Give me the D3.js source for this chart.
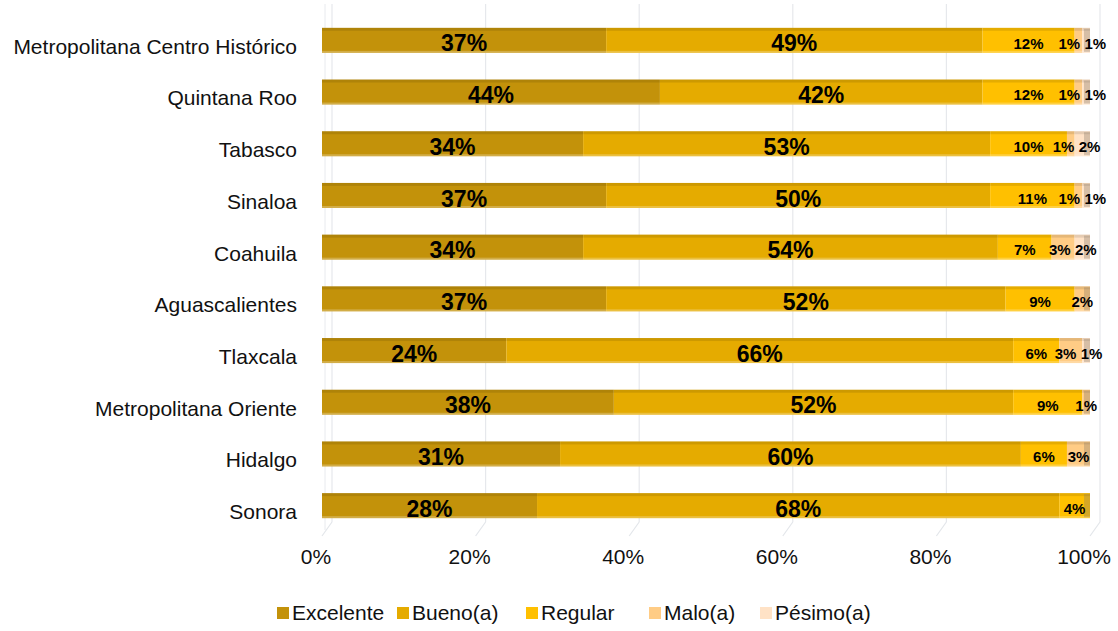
<!DOCTYPE html>
<html>
<head>
<meta charset="utf-8">
<script src="https://cdn.jsdelivr.net/npm/d3@7"></script>
<style>
  body { margin: 0; background: #fff; }
  text { font-family: "Liberation Sans", Arial, sans-serif; }
</style>
</head>
<body>
<div id="chart-area"></div>
<script>
// DATA
// =====

var categories = ['Metropolitana Centro Histórico', 'Quintana Roo', 'Tabasco', 'Sinaloa', 'Coahuila',
    'Aguascalientes', 'Tlaxcala', 'Metropolitana Oriente', 'Hidalgo', 'Sonora'];
var seriesNames = ['Excelente', 'Bueno(a)', 'Regular', 'Malo(a)', 'Pésimo(a)'];
var excelente = [37, 44, 34, 37, 34, 37, 24, 38, 31, 28];
var bueno     = [49, 42, 53, 50, 54, 52, 66, 52, 60, 68];
var regular   = [12, 12, 10, 11,  7,  9,  6,  9,  6,  4];
var malo      = [ 1,  1,  1,  1,  3,  2,  3,  1,  3,  0];
var pesimo    = [ 1,  1,  2,  1,  2,  0,  1,  0,  0,  0];
var xTicks = [0, 20, 40, 60, 80, 100];

var colors = ['#C3920A', '#E5AB00', '#FFC000', '#FFCC85', '#FFE2C6'];

// CANVAS
// =======

var W = 1118, H = 631;
var svg = d3.select('#chart-area')
    .append('svg')
        .attr('width', W)
        .attr('height', H);

var x = d3.scaleLinear().domain([0, 100]).range([322, 1090]);
var y = d3.scaleBand()
    .domain(categories)
    .range([14.5, 531.5])
    .paddingInner(0.516)
    .paddingOuter(0.258);

// stacked rows
var rows = categories.map((c, i) => {
    return { cat: c, vals: [excelente[i], bueno[i], regular[i], malo[i], pesimo[i]] };
});
var keys = d3.range(5);
var stack = d3.stack()
    .keys(keys)
    .value((d, k) => d.vals[k]);
var layers = stack(rows);

// GRID (back wall, pseudo 3D)
// ============================
var grid = svg.append('g');
grid.selectAll('line.grid')
    .data(xTicks)
    .enter()
    .append('line')
        .attr('x1', d => x(d) + 10)
        .attr('x2', d => x(d) + 10)
        .attr('y1', 4)
        .attr('y2', 522)
        .attr('stroke', '#e6e8ec')
        .attr('stroke-width', 1.2);
// floor slants
grid.selectAll('line.floor')
    .data(xTicks)
    .enter()
    .append('line')
        .attr('x1', d => x(d) + 10)
        .attr('x2', d => x(d))
        .attr('y1', 522)
        .attr('y2', 536)
        .attr('stroke', '#e3e6ea')
        .attr('stroke-width', 1.2);
grid.append('line')
    .attr('x1', x(0) + 3).attr('x2', x(0) + 3)
    .attr('y1', 4).attr('y2', 530)
    .attr('stroke', '#e8eaee');

// BARS
// =====
var barG = svg.append('g');
layers.forEach((layer, k) => {
    var g = barG.append('g');
    var segs = layer.filter(d => d[1] > d[0]);
    g.selectAll('rect.body')
        .data(segs)
        .enter()
        .append('rect')
            .attr('x', d => x(d[0]))
            .attr('y', d => y(d.data.cat))
            .attr('width', d => x(d[1]) - x(d[0]))
            .attr('height', y.bandwidth())
            .attr('fill', colors[k]);
    // top face shading
    g.selectAll('rect.top')
        .data(segs)
        .enter()
        .append('rect')
            .attr('x', d => x(d[0]))
            .attr('y', d => y(d.data.cat))
            .attr('width', d => x(d[1]) - x(d[0]))
            .attr('height', 3)
            .attr('fill', '#000')
            .attr('opacity', 0.1);
    // bottom highlight
    g.selectAll('rect.bot')
        .data(segs)
        .enter()
        .append('rect')
            .attr('x', d => x(d[0]))
            .attr('y', d => y(d.data.cat) + y.bandwidth() - 2)
            .attr('width', d => x(d[1]) - x(d[0]))
            .attr('height', 2)
            .attr('fill', '#fff')
            .attr('opacity', 0.25);
});
// end caps
barG.selectAll('rect.cap')
    .data(rows)
    .enter()
    .append('rect')
        .attr('x', x(100) - 6)
        .attr('y', d => y(d.cat) + 1)
        .attr('width', 6)
        .attr('height', y.bandwidth() - 2)
        .attr('fill', '#8a7a6a')
        .attr('opacity', 0.35);

// LABELS IN BARS
// ===============
var labG = svg.append('g');
rows.forEach((r, i) => {
    var labs = [];
    var start = 0;
    r.vals.forEach((v, k) => {
        if (v > 0) {
            var big = k < 2;
            labs.push({
                v: v, k: k,
                cx: x(start + v / 2),
                w: big ? 48 : (v >= 10 ? 31 : 22),
                big: big
            });
        }
        start += v;
    });
    // simple spread of overlapping labels
    for (var it = 0; it < 10; it++) {
        for (var j = 1; j < labs.length; j++) {
            var a = labs[j - 1], b = labs[j];
            var gap = (a.w + b.w) / 2 + 4;
            var ov = gap - (b.cx - a.cx);
            if (ov > 0) {
                a.cx -= ov / 2;
                b.cx += ov / 2;
            }
        }
    }
    labs.forEach(l => {
        labG.append('text')
            .attr('x', l.cx)
            .attr('y', y(r.cat) + y.bandwidth() / 2 + 3)
            .attr('dy', '0.35em')
            .attr('text-anchor', 'middle')
            .attr('font-weight', 'bold')
            .attr('font-size', l.big ? '23px' : '15px')
            .attr('fill', '#000')
            .text(l.v + '%');
    });
});

// AXES LABELS
// ============
svg.append('g')
    .selectAll('text')
    .data(categories)
    .enter()
    .append('text')
        .attr('x', 297)
        .attr('y', d => y(d) + y.bandwidth() / 2 + 6)
        .attr('dy', '0.35em')
        .attr('text-anchor', 'end')
        .attr('font-size', '21px')
        .attr('fill', '#111')
        .text(d => d);

svg.append('g')
    .selectAll('text')
    .data(xTicks)
    .enter()
    .append('text')
        .attr('x', d => x(d) - 6)
        .attr('y', 557)
        .attr('dy', '0.35em')
        .attr('text-anchor', 'middle')
        .attr('font-size', '21px')
        .attr('fill', '#111')
        .text(d => d + '%');

// LEGEND
// =======
var legX = [277, 397, 526, 649, 760];
var leg = svg.append('g');
seriesNames.forEach((s, k) => {
    leg.append('rect')
        .attr('x', legX[k])
        .attr('y', 607)
        .attr('width', 12)
        .attr('height', 12)
        .attr('fill', colors[k]);
    leg.append('text')
        .attr('x', legX[k] + 15)
        .attr('y', 613)
        .attr('dy', '0.35em')
        .attr('font-size', '21px')
        .attr('fill', '#111')
        .text(s);
});
</script>
</body>
</html>
